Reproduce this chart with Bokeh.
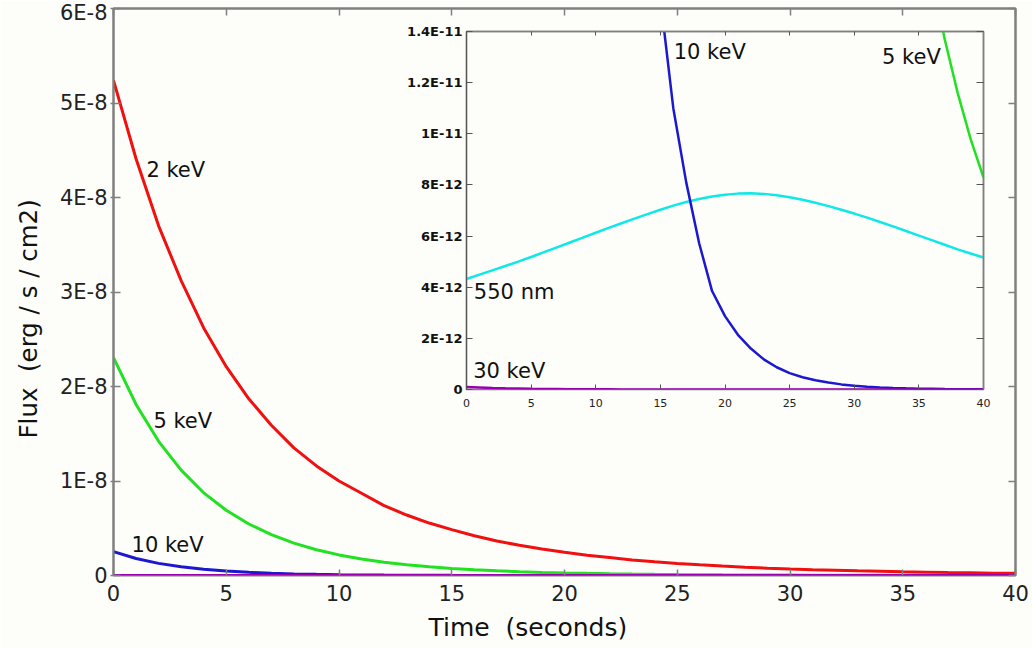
from bokeh.plotting import figure
from bokeh.models import (LinearAxis, FixedTicker, Label, Range1d, CustomJSTickFormatter, Title)
from bokeh.layouts import column
from bokeh.embed import file_html
from bokeh.resources import INLINE

# ---------------- data (flux in erg / s / cm2) ----------------
time_s = list(range(41))

flux_2kev = [5.24e-8, 4.41e-8, 3.70e-8, 3.12e-8, 2.62e-8, 2.21e-8, 1.87e-8, 1.59e-8, 1.35e-8, 1.16e-8,
             1.00e-8, 0.87e-8, 0.74e-8, 0.64e-8, 0.555e-8, 0.485e-8, 0.42e-8, 0.365e-8, 0.32e-8, 0.28e-8,
             0.245e-8, 0.215e-8, 0.19e-8, 0.165e-8, 0.145e-8, 0.128e-8, 0.113e-8, 0.10e-8, 0.088e-8, 0.078e-8,
             0.069e-8, 0.061e-8, 0.055e-8, 0.049e-8, 0.044e-8, 0.039e-8, 0.035e-8, 0.031e-8, 0.028e-8, 0.025e-8,
             0.023e-8]

flux_5kev = [2.306e-8, 1.81e-8, 1.42e-8, 1.115e-8, 0.875e-8, 0.69e-8, 0.545e-8, 0.432e-8, 0.343e-8, 0.273e-8,
             0.218e-8, 0.175e-8, 0.141e-8, 0.114e-8, 0.0925e-8, 0.0753e-8, 0.0612e-8, 0.0498e-8, 0.0403e-8, 0.0327e-8,
             0.027e-8, 0.0225e-8, 0.0187e-8, 0.0156e-8, 0.013e-8, 0.0109e-8, 0.0091e-8, 0.0076e-8, 0.0064e-8, 0.0054e-8,
             0.0045e-8, 0.0038e-8, 0.0032e-8, 0.0027e-8, 0.00228e-8, 0.00192e-8, 0.00162e-8, 0.00137e-8, 0.00116e-8,
             0.00098e-8, 0.000829e-8]

flux_10kev = [2530e-12, 1803e-12, 1284e-12, 915e-12, 652e-12, 465e-12, 331e-12, 236e-12, 168e-12, 120e-12,
              85.5e-12, 60e-12, 42.5e-12, 30.2e-12, 21.5e-12, 15.3e-12, 11.0e-12, 8.1e-12, 5.72e-12, 3.85e-12,
              2.87e-12, 2.14e-12, 1.6e-12, 1.18e-12, 0.87e-12, 0.64e-12, 0.48e-12, 0.36e-12, 0.27e-12, 0.2e-12,
              0.15e-12, 0.11e-12, 0.08e-12, 0.06e-12, 0.045e-12, 0.033e-12, 0.025e-12, 0.018e-12, 0.013e-12,
              0.01e-12, 0.008e-12]

flux_30kev = [0.10e-12, 0.08e-12, 0.06e-12, 0.045e-12, 0.035e-12, 0.025e-12, 0.02e-12, 0.015e-12, 0.01e-12,
              0.008e-12, 0.006e-12, 0.005e-12, 0.004e-12, 0.003e-12, 0.002e-12, 0.0015e-12, 0.001e-12, 0.0008e-12,
              0.0006e-12, 0.0005e-12, 0.0004e-12, 0.0003e-12, 0.0002e-12, 0.0002e-12, 0.0001e-12, 0.0001e-12,
              0.0001e-12, 0.0001e-12, 0.0001e-12, 0.0001e-12, 0.0, 0.0, 0.0, 0.0, 0.0, 0.0, 0.0, 0.0, 0.0, 0.0, 0.0]

flux_550nm = [4.32e-12, 4.49e-12, 4.66e-12, 4.83e-12, 5.00e-12, 5.18e-12, 5.37e-12, 5.56e-12, 5.75e-12, 5.94e-12,
              6.13e-12, 6.32e-12, 6.50e-12, 6.68e-12, 6.86e-12, 7.03e-12, 7.19e-12, 7.33e-12, 7.45e-12, 7.55e-12,
              7.62e-12, 7.66e-12, 7.67e-12, 7.65e-12, 7.60e-12, 7.52e-12, 7.42e-12, 7.30e-12, 7.17e-12, 7.03e-12,
              6.88e-12, 6.72e-12, 6.55e-12, 6.38e-12, 6.20e-12, 6.02e-12, 5.84e-12, 5.66e-12, 5.48e-12, 5.32e-12,
              5.16e-12]

main_x_ticks = [0, 5, 10, 15, 20, 25, 30, 35, 40]
main_x_labels = ["0", "5", "10", "15", "20", "25", "30", "35", "40"]
main_y_ticks = [0.0, 1e-8, 2e-8, 3e-8, 4e-8, 5e-8, 6e-8]
main_y_labels = ["0", "1E-8", "2E-8", "3E-8", "4E-8", "5E-8", "6E-8"]
inset_y_ticks = [0.0, 2e-12, 4e-12, 6e-12, 8e-12, 1e-11, 1.2e-11, 1.4e-11]
inset_y_labels = ["0", "2E-12", "4E-12", "6E-12", "8E-12", "1E-11", "1.2E-11", "1.4E-11"]

# ---------------- styles ----------------
FONT = "DejaVu Sans"
BG = "#fdfdfa"
GRAY = "#808080"
C_RED = "#f01010"
C_GREEN = "#22e022"
C_BLUE = "#1c18d0"
C_CYAN = "#10e8e8"
C_PURPLE = "#9a00b0"

LEFT, RIGHT = 113, 17   # shared (aligned) left / right borders of both plots


def fmt(vals, labels):
    return CustomJSTickFormatter(args=dict(vals=vals, labels=labels), code="""
        let best = 0;
        for (let i = 0; i < vals.length; i++) {
            if (Math.abs(vals[i] - tick) < Math.abs(vals[best] - tick)) best = i;
        }
        return labels[best];
    """)


def blank():
    return CustomJSTickFormatter(code="return '';")


# ---------------- main plot ----------------
p = figure(width=1032, height=648, x_range=Range1d(0, 40), y_range=Range1d(0, 6e-8),
           x_axis_type=None, y_axis_type=None, output_backend="svg", toolbar_location=None,
           min_border_left=LEFT, min_border_right=RIGHT, min_border_top=8, min_border_bottom=71)
p.background_fill_color = BG
p.border_fill_color = BG
p.outline_line_color = GRAY
p.outline_line_width = 2

xb = LinearAxis(ticker=FixedTicker(ticks=main_x_ticks), formatter=fmt(main_x_ticks, main_x_labels),
                axis_line_color=None, major_tick_in=6, major_tick_out=0, major_tick_line_color=GRAY,
                major_tick_line_width=1.5, minor_tick_line_color=None,
                major_label_text_font=FONT, major_label_text_font_size="21px", major_label_text_color="#222222",
                major_label_standoff=9)
p.add_layout(xb, "below")

yl = LinearAxis(ticker=FixedTicker(ticks=main_y_ticks), formatter=fmt(main_y_ticks, main_y_labels),
                axis_line_color=GRAY, axis_line_width=2, major_tick_in=7, major_tick_out=3,
                major_tick_line_color=GRAY, major_tick_line_width=1.5, minor_tick_line_color=None,
                major_label_text_font=FONT, major_label_text_font_size="21px", major_label_text_color="#222222",
                major_label_standoff=3)
p.add_layout(yl, "left")

xt = LinearAxis(ticker=FixedTicker(ticks=main_x_ticks), formatter=blank(), axis_line_color=GRAY,
                axis_line_width=2, major_tick_in=7, major_tick_out=0, major_tick_line_color=GRAY,
                major_tick_line_width=1.5, minor_tick_line_color=None, major_label_standoff=0)
p.add_layout(xt, "above")

yr = LinearAxis(ticker=FixedTicker(ticks=main_y_ticks), formatter=blank(), axis_line_color=GRAY,
                axis_line_width=2, major_tick_in=7, major_tick_out=0, major_tick_line_color=GRAY,
                major_tick_line_width=1.5, minor_tick_line_color=None, major_label_standoff=0)
p.add_layout(yr, "right")

# axis titles (placed where the reference has them)
p.add_layout(Title(text="Time \u00a0(seconds)", align="left", offset=315, standoff=14,
                   text_font=FONT, text_font_size="25px", text_font_style="normal", text_color="#111111"), "below")
p.add_layout(Title(text="Flux \u00a0(erg / s / cm2)", align="left", offset=137, standoff=24,
                   vertical_align="top",
                   text_font=FONT, text_font_size="24.5px", text_font_style="normal", text_color="#111111"), "left")

p.line(time_s, flux_2kev, line_color=C_RED, line_width=3)
p.line(time_s, flux_5kev, line_color=C_GREEN, line_width=3)
p.line(time_s, flux_10kev, line_color=C_BLUE, line_width=3)
p.line(time_s, flux_550nm, line_color=C_CYAN, line_width=3)
p.line(time_s, flux_30kev, line_color=C_PURPLE, line_width=3)

for tx, ty, txt in [(1.46, 4.29e-8, "2 keV"), (1.77, 1.64e-8, "5 keV"), (0.8, 0.324e-8, "10 keV")]:
    p.add_layout(Label(x=tx, y=ty, text=txt, text_font=FONT, text_font_size="21px",
                       text_baseline="middle", text_align="left", text_color="#111111"))

# ---------------- inset ----------------
INSET_X0, INSET_Y0 = 466 - LEFT, 20
q = figure(width=(983 + RIGHT) - INSET_X0, height=391, x_range=Range1d(0, 40), y_range=Range1d(0, 1.4e-11),
           x_axis_type=None, y_axis_type=None, output_backend="svg", toolbar_location=None,
           min_border_left=LEFT, min_border_right=RIGHT, min_border_top=11, min_border_bottom=22)
q.background_fill_color = BG
q.border_fill_color = None
q.outline_line_color = GRAY
q.outline_line_width = 1.5

qxb = LinearAxis(ticker=FixedTicker(ticks=main_x_ticks), formatter=fmt(main_x_ticks, main_x_labels),
                 axis_line_color=None, major_tick_in=5, major_tick_out=0, major_tick_line_color="#555555",
                 minor_tick_line_color=None, major_label_text_font=FONT, major_label_text_font_size="11px",
                 major_label_text_color="#222222", major_label_standoff=9)
q.add_layout(qxb, "below")
qyl = LinearAxis(ticker=FixedTicker(ticks=inset_y_ticks), formatter=fmt(inset_y_ticks, inset_y_labels),
                 axis_line_color="#555555", axis_line_width=1.2, major_tick_in=6, major_tick_out=0,
                 major_tick_line_color="#555555", minor_tick_line_color=None,
                 major_label_text_font=FONT, major_label_text_font_size="13px", major_label_text_font_style="bold",
                 major_label_text_color="#111111", major_label_standoff=4)
q.add_layout(qyl, "left")
qxt = LinearAxis(ticker=FixedTicker(ticks=main_x_ticks), formatter=blank(), axis_line_color=GRAY,
                 axis_line_width=1.5, major_tick_in=4, major_tick_out=0, major_tick_line_color="#555555",
                 minor_tick_line_color=None, major_label_standoff=0)
q.add_layout(qxt, "above")
qyr = LinearAxis(ticker=FixedTicker(ticks=inset_y_ticks), formatter=blank(), axis_line_color=GRAY,
                 axis_line_width=1.5, major_tick_in=7, major_tick_out=0, major_tick_line_color="#555555",
                 minor_tick_line_color=None, major_label_standoff=0)
q.add_layout(qyr, "right")

q.line(time_s, flux_550nm, line_color=C_CYAN, line_width=2.5)
q.line(time_s, flux_10kev, line_color=C_BLUE, line_width=2.5)
q.line(time_s, flux_5kev, line_color=C_GREEN, line_width=2.5)
q.line(time_s, flux_30kev, line_color=C_PURPLE, line_width=2.5)

for tx, ty, txt in [(16.03, 13.18e-12, "10 keV"), (32.15, 12.99e-12, "5 keV"),
                    (0.57, 3.8e-12, "550 nm"), (0.52, 0.72e-12, "30 keV")]:
    q.add_layout(Label(x=tx, y=ty, text=txt, text_font=FONT, text_font_size="21px",
                       text_baseline="middle", text_align="left", text_color="#111111"))

# ---------------- overlay inset on main ----------------
q.margin = (INSET_Y0 - 648, 0, 0, INSET_X0)
layout = column(p, q)

open("out.html", "w").write(file_html(layout, INLINE))
